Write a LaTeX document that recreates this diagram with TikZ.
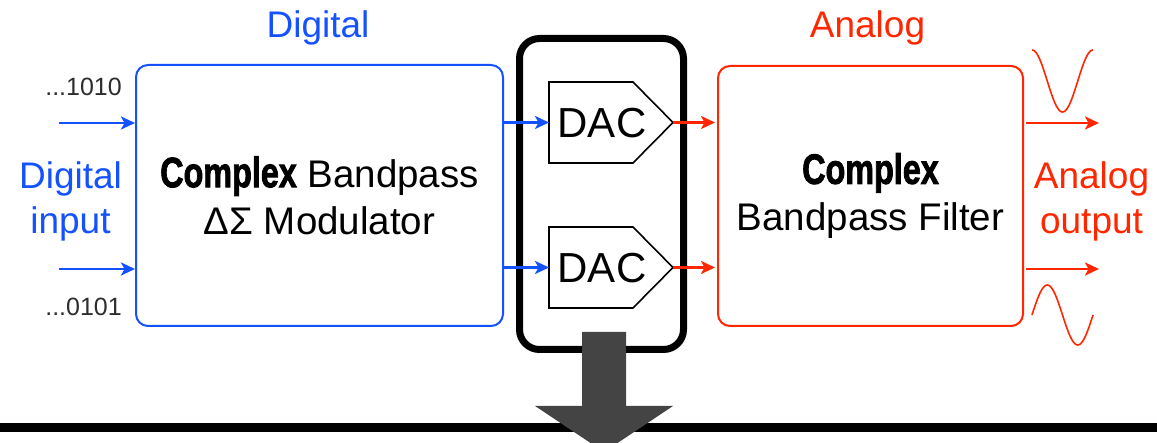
\documentclass[tikz,border=0pt]{standalone}
\usepackage{fontspec}
\setmainfont{Liberation Sans}
\newfontface\heavyface[FakeBold=2.2]{Liberation Sans Bold}
\usetikzlibrary{arrows.meta}
\definecolor{dblue}{RGB}{20,82,255}
\definecolor{dred}{RGB}{255,38,0}
\definecolor{dgray}{RGB}{68,68,68}
\definecolor{numgray}{RGB}{45,45,45}
\newcommand{\heavyword}[1]{\scalebox{0.84}[1.1]{\heavyface #1}}
\begin{document}
\begin{tikzpicture}[x=1pt,y=-1pt,
  lbl/.style={inner sep=0pt, font=\fontsize{37}{45}\selectfont},
  bits/.style={inner sep=0pt, text=numgray, font=\fontsize{25}{30}\selectfont},
  blk/.style={draw, line width=2pt, rounded corners=12pt, minimum width=367pt,
    minimum height=261pt, inner sep=0pt, align=center, font=\fontsize{38.5}{47}\selectfont},
  arr/.style={line width=2.6pt, -{Stealth[length=14pt,width=13pt,inset=3.5pt]}},
  dacshape/.style={draw, line width=1.6pt, line join=miter},
  dactext/.style={inner sep=0pt, font=\fontsize{42}{50}\selectfont},
  wave/.style={dred, line width=1.6pt, smooth, samples=61, variable=\t}]
\useasboundingbox (0,0) rectangle (1157,443);

% headers
\node[lbl, text=dblue, anchor=base] (hdig) at (318,38) {Digital};
\node[lbl, text=dred, anchor=base] (hana) at (867.5,38) {Analog};

% modulator and filter blocks
\node[blk, dblue, text=black] (mod) at (319.5,195.5) {\heavyword{Complex} Bandpass\\ΔΣ Modulator};
\node[blk, dred, text=black, minimum width=305pt, minimum height=260pt] (filt) at (870.5,196)
  {\heavyword{Complex}\\Bandpass Filter};

% input labels
\node[lbl, text=dblue, align=center] (din) at (70.5,201) {Digital\\input};
\node[bits, anchor=base east] (b1) at (122,96) {...1010};
\node[bits, anchor=base east] (b2) at (122,316) {...0101};
\coordinate (in1) at (59,123);
\coordinate (in2) at (59,269);

% DAC enclosure
\node[draw, line width=7pt, rounded corners=20pt, minimum width=164pt, minimum height=311pt,
  inner sep=0pt, outer sep=0pt] (dacbox) at (601.5,194) {};

% DAC pentagons
\coordinate (d1in) at (549,122.5);
\coordinate (d1tip) at (673,122.5);
\coordinate (d2in) at (549,267.5);
\coordinate (d2tip) at (673,267.5);
\draw[dacshape] (549,82) -- (633,82) -- (d1tip) -- (633,163) -- (549,163) -- cycle;
\draw[dacshape] (549,227) -- (633,227) -- (d2tip) -- (633,308) -- (549,308) -- cycle;
\node[dactext] (dac1) at (602,123) {DAC};
\node[dactext] (dac2) at (602,268) {DAC};

% connectors
\draw[arr, dblue] (in1) -- (mod.west |- in1);
\draw[arr, dblue] (in2) -- (mod.west |- in2);
\draw[arr, dblue] (mod.east |- d1in) -- (d1in);
\draw[arr, dblue] (mod.east |- d2in) -- (d2in);
\draw[arr, dred] (d1tip) -- ([xshift=-2pt]filt.west |- d1tip);
\draw[arr, dred] (d2tip) -- ([xshift=-2pt]filt.west |- d2tip);
\coordinate (o1) at (1099,123);
\coordinate (o2) at (1099,269);
\draw[arr, dred] ([xshift=2pt]filt.east |- o1) -- (o1);
\draw[arr, dred] ([xshift=2pt]filt.east |- o2) -- (o2);

% output label and waves
\node[lbl, text=dred, align=center] (aout) at (1091.5,201) {Analog\\output};
\draw[wave, domain=0:360] plot ({1032+0.169444*\t},{81-31*cos(\t)});
\draw[wave, domain=0:360] plot ({1032+0.169444*\t},{315-30*sin(\t)});

% bottom line and big arrow
\draw[line width=9pt] (0,427.5) -- (1157,427.5);
\fill[dgray] (582,332) -- (626,332) -- (626,406) -- (673,406) -- (604,452) -- (535,406) -- (582,406) -- cycle;
\end{tikzpicture}
\end{document}
